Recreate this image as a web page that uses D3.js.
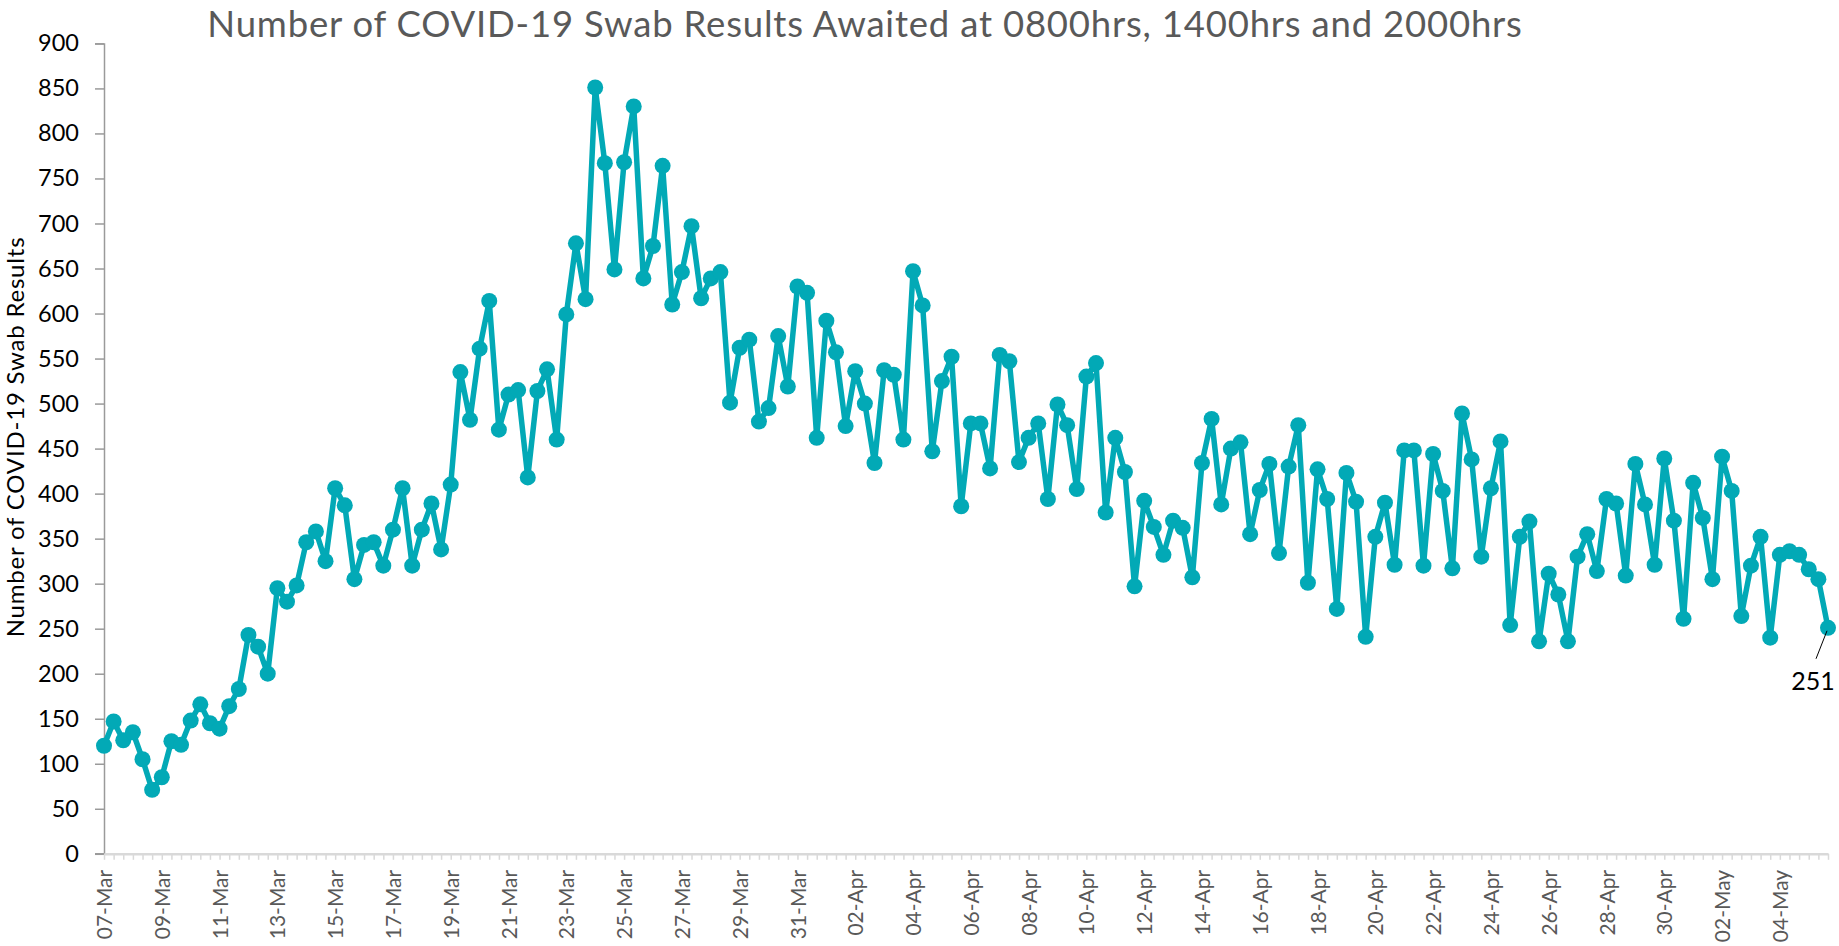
<!DOCTYPE html>
<html>
<head>
<meta charset="utf-8">
<script src="https://cdn.jsdelivr.net/npm/d3@7"></script>
<style>
  body { margin: 0; background: #fff; }
  text { font-family: Lato, "Open Sans", sans-serif; }
</style>
</head>
<body>
<div id="chart"></div>
<script>
// swab results awaited, three readings a day (0800, 1400, 2000)
const marchValues = [
  120, 147, 126, 135, 105, 71, 85, 125, 121, 148, 166, 145,
  139, 164, 183, 243, 230, 200, 295, 280, 298, 346, 358, 325,
  406, 387, 305, 343, 346, 320, 360, 406, 320, 360, 389, 338,
  410, 535, 482, 561, 614, 471, 510, 515, 418, 514, 538, 460,
  599, 678, 616, 851, 767, 649, 768, 830, 639, 675, 764, 610,
  646, 697, 617, 639, 646, 501, 562, 571, 480, 495, 575, 519,
  630, 623, 462
];
const aprilValues = [
  592, 557, 475, 536, 500, 434, 537, 532, 460, 647, 609, 447,
  525, 552, 386, 478, 478, 428, 554, 547, 435, 462, 478, 394,
  499, 476, 405, 530, 545, 379, 462, 424, 297, 392, 363, 332,
  370, 362, 307, 434, 483, 388, 450, 457, 355, 404, 433, 334,
  430, 476, 301, 427, 394, 272, 423, 391, 241, 352, 390, 321,
  448, 448, 320, 444, 403, 317, 489, 438, 330, 406, 458, 254,
  352, 369, 236, 311, 288, 236, 330, 355, 314, 394, 389, 309,
  433, 388, 321, 439, 370, 261
];
const mayValues = [
  412, 373, 305, 441, 403, 264, 320, 352, 240, 332, 336, 332,
  316, 305, 251
];

const slots = ["0800", "1400", "2000"];
const tickLabels = [
  "07-Mar", "09-Mar", "11-Mar", "13-Mar", "15-Mar", "17-Mar", "19-Mar",
  "21-Mar", "23-Mar", "25-Mar", "27-Mar", "29-Mar", "31-Mar",
  "02-Apr", "04-Apr", "06-Apr", "08-Apr", "10-Apr", "12-Apr", "14-Apr",
  "16-Apr", "18-Apr", "20-Apr", "22-Apr", "24-Apr", "26-Apr", "28-Apr",
  "30-Apr", "02-May", "04-May"
];
const yTicks = [0, 50, 100, 150, 200, 250, 300, 350, 400, 450,
                500, 550, 600, 650, 700, 750, 800, 850, 900];

const width = 1839, height = 946;
const plotLeft = 104, plotRight = 1828, plotTop = 43.4, plotBottom = 853.8;
const teal = "#02a9b6";

// one category per reading: day + slot
const fmt = d3.timeFormat("%d-%b");
const days = d3.timeDays(new Date(2020, 2, 7), new Date(2020, 4, 6)).map(fmt);
const categories = [];
days.forEach(function(day) {
  slots.forEach(function(s) { categories.push(day + " " + s); });
});

const values = marchValues.concat(aprilValues, mayValues);
const data = values.map(function(v, i) {
  return { cat: categories[i], value: v };
});

const svg = d3.select("#chart").append("svg")
  .attr("width", width)
  .attr("height", height);

const x = d3.scalePoint()
  .domain(categories)
  .range([plotLeft, plotRight]);

const y = d3.scaleLinear()
  .domain([0, 900])
  .range([plotBottom, plotTop]);

// title
svg.append("text")
  .attr("x", 865)
  .attr("y", 36.5)
  .attr("text-anchor", "middle")
  .style("font-size", "36.5px")
  .style("letter-spacing", "0.8px")
  .style("fill", "#595959")
  .text("Number of COVID-19 Swab Results Awaited at 0800hrs, 1400hrs and 2000hrs");

// y axis title
svg.append("text")
  .attr("transform", "translate(24,437) rotate(-90)")
  .attr("text-anchor", "middle")
  .style("font-size", "24px")
  .style("letter-spacing", "0.8px")
  .style("fill", "#000")
  .text("Number of COVID-19 Swab Results");

// y axis
const yAxis = d3.axisLeft(y)
  .tickValues(yTicks)
  .tickSize(9)
  .tickPadding(16);

const gy = svg.append("g")
  .attr("transform", "translate(" + plotLeft + ",0)")
  .call(yAxis);
gy.select(".domain").attr("stroke", "#9a9a9a").attr("stroke-width", 1.5);
gy.selectAll(".tick line").attr("stroke", "#9a9a9a").attr("stroke-width", 1.5);
gy.selectAll(".tick text")
  .style("font-size", "23.5px")
  .style("font-family", "Lato, 'Open Sans', sans-serif")
  .attr("fill", "#000");

// x axis, a tick for each reading, a label every second day
const xAxis = d3.axisBottom(x)
  .tickSize(6)
  .tickSizeOuter(0)
  .tickFormat(function(d, i) {
    return i % 6 === 0 ? tickLabels[i / 6] : "";
  });

const gx = svg.append("g")
  .attr("transform", "translate(0," + plotBottom + ")")
  .call(xAxis);
gx.select(".domain").attr("stroke", "#d9d9d9").attr("stroke-width", 2.5);
gx.selectAll(".tick line").attr("stroke", "#d9d9d9").attr("stroke-width", 1.5);
gx.selectAll(".tick text")
  .attr("transform", "rotate(-90)")
  .attr("text-anchor", "end")
  .attr("x", -16)
  .attr("y", 0)
  .attr("dy", "0.36em")
  .style("font-size", "21px")
  .style("font-family", "Lato, 'Open Sans', sans-serif")
  .attr("fill", "#595959");

// redraw the zero tick of the y axis on top of the x axis line
svg.append("line")
  .attr("x1", plotLeft - 9).attr("x2", plotLeft)
  .attr("y1", plotBottom).attr("y2", plotBottom)
  .attr("stroke", "#9a9a9a").attr("stroke-width", 1.5);

const line = d3.line()
  .x(function(d) { return x(d.cat); })
  .y(function(d) { return y(d.value); });

svg.append("path")
  .datum(data)
  .attr("fill", "none")
  .attr("stroke", teal)
  .attr("stroke-width", 5.5)
  .attr("stroke-linejoin", "round")
  .attr("d", line);

svg.selectAll("circle.pt")
  .data(data)
  .enter().append("circle")
  .attr("class", "pt")
  .attr("cx", function(d) { return x(d.cat); })
  .attr("cy", function(d) { return y(d.value); })
  .attr("r", 8)
  .attr("fill", teal);

// label on the last reading
const last = data[data.length - 1];
const lx = x(last.cat), ly = y(last.value);
svg.append("line")
  .attr("x1", lx - 1).attr("y1", ly + 3)
  .attr("x2", lx - 12).attr("y2", ly + 31)
  .attr("stroke", "#000")
  .attr("stroke-width", 1);
svg.append("text")
  .attr("x", lx - 15)
  .attr("y", ly + 62)
  .attr("text-anchor", "middle")
  .style("font-size", "25px")
  .style("fill", "#000")
  .text(last.value);
</script>
</body>
</html>
